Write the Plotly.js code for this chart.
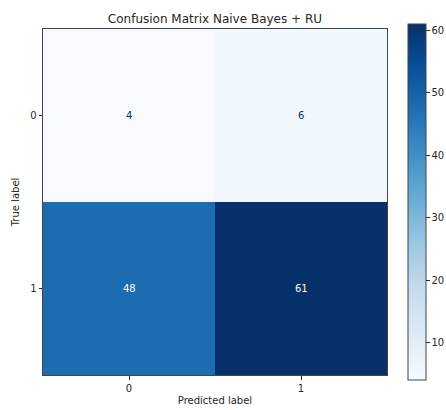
<!DOCTYPE html>
<html>
<head>
<meta charset="utf-8">
<script src="https://cdn.plot.ly/plotly-3.0.1.min.js"></script>
<style>
  html, body { margin: 0; padding: 0; background: #fff; }
  #chart { width: 446px; height: 410px; }
</style>
</head>
<body>
<div id="chart"></div>
<script>
// Confusion matrix counts: rows = true label, columns = predicted label
const classLabels = [0, 1];
const row0 = [4, 6];
const row1 = [48, 61];
const matrix = [row0, row1];
const colorbarTicks = [10, 20, 30, 40, 50, 60];

// Matplotlib "Blues" colormap stops
const bluesStops = ['#f7fbff', '#deebf7', '#c6dbef', '#9ecae1', '#6baed6',
                    '#4292c6', '#2171b5', '#08519c', '#08306b'];
const blues = bluesStops.map((c, i) => [i / (bluesStops.length - 1), c]);

const flat = matrix.flat();
const zmin = Math.min(...flat);
const zmax = Math.max(...flat);
const threshold = (zmin + zmax) / 2;

const font = 'DejaVu Sans, sans-serif';
const textDark = '#262626';

// Cell count labels: dark text on light cells, light text on dark cells
const annotations = [];
matrix.forEach((row, r) => {
  row.forEach((v, c) => {
    annotations.push({
      x: classLabels[c], y: classLabels[r], xref: 'x', yref: 'y',
      text: String(v), showarrow: false,
      font: { family: font, size: 10,
              color: v < threshold ? bluesStops[bluesStops.length - 1] : bluesStops[0] }
    });
  });
});

const trace = {
  type: 'heatmap',
  x: classLabels, y: classLabels, z: matrix,
  zmin: zmin, zmax: zmax,
  colorscale: blues,
  xgap: 0, ygap: 0,
  hoverinfo: 'skip',
  colorbar: {
    x: 1.061, xanchor: 'left', xpad: 0,
    y: 0.5, yanchor: 'middle', ypad: 0,
    thickness: 18, thicknessmode: 'pixels',
    len: 356, lenmode: 'pixels',
    outlinecolor: '#444', outlinewidth: 1,
    tickmode: 'array', tickvals: colorbarTicks,
    ticks: 'outside', ticklen: 3.5, tickwidth: 1, tickcolor: textDark,
    tickfont: { family: font, size: 10, color: textDark }
  }
};

const axisCommon = {
  tickmode: 'array', tickvals: classLabels, ticktext: classLabels.map(String),
  ticks: 'outside', ticklen: 3.5, tickwidth: 1, tickcolor: textDark,
  tickfont: { family: font, size: 10, color: textDark },
  showgrid: false, zeroline: false,
  showline: true, mirror: true, linecolor: '#444', linewidth: 1
};

const layout = {
  width: 446, height: 410,
  margin: { l: 43, r: 59, t: 29, b: 35, pad: 0, autoexpand: false },
  paper_bgcolor: '#fff', plot_bgcolor: '#fff',
  title: {
    text: 'Confusion Matrix Naive Bayes + RU',
    font: { family: font, size: 12, color: textDark },
    x: 0.482, xanchor: 'center', y: 0.955, yanchor: 'middle'
  },
  xaxis: Object.assign({}, axisCommon, {
    range: [-0.5, 1.5],
    title: { text: 'Predicted label', standoff: 4,
             font: { family: font, size: 10, color: textDark } }
  }),
  yaxis: Object.assign({}, axisCommon, {
    range: [1.5, -0.5],
    title: { text: 'True label', standoff: 8,
             font: { family: font, size: 10, color: textDark } }
  }),
  annotations: annotations,
  showlegend: false
};

Plotly.newPlot('chart', [trace], layout, { displayModeBar: false, staticPlot: true });
</script>
</body>
</html>
